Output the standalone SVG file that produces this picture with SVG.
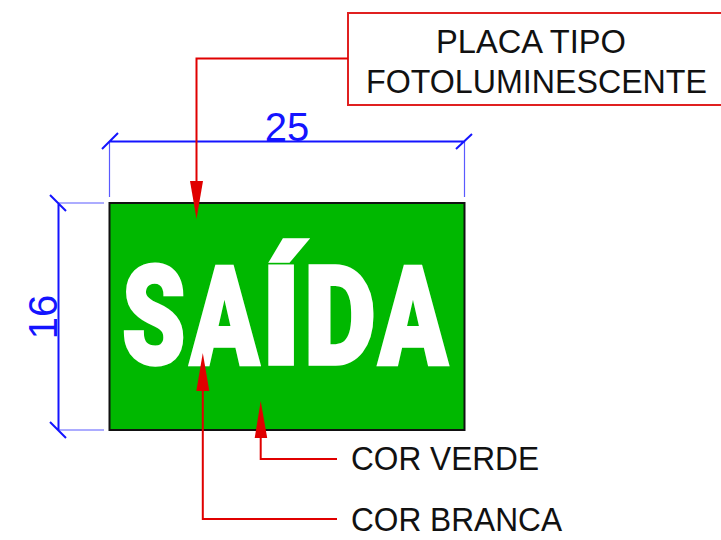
<svg xmlns="http://www.w3.org/2000/svg" width="721" height="540" viewBox="0 0 721 540">
<style>
.lbl{font-family:"Liberation Sans",Arial,sans-serif;font-size:33px;fill:#111}
.dimt{font-family:"Liberation Sans",Arial,sans-serif;font-size:40px;fill:#1414ff}
.sg{font-family:"Roboto","Liberation Sans",sans-serif;font-weight:900;font-size:137px;fill:#fff;stroke:#fff;stroke-width:3.500}
.dim{stroke:#1414ff;stroke-width:2;fill:none}
.ext{stroke:#5a5aff;stroke-width:1.2;fill:none}
.lead{stroke:#e00000;stroke-width:2;fill:none}
.head{fill:#e00000}
</style>
<rect width="721" height="540" fill="#fff"/>
<g id="placa">
<rect x="109.5" y="203" width="355" height="227" fill="#00b800" stroke="#111" stroke-width="2"/>
<g id="saida">
<text class="sg" transform="translate(122 364) scale(.74 1)">S</text>
<text class="sg" transform="translate(190 364) scale(.74 1)">A</text>
<text class="sg" transform="translate(261.500 364) scale(.95 1)">Í</text>
<text class="sg" transform="translate(304 364) scale(.81 1)">D</text>
<text class="sg" transform="translate(378.500 364) scale(.74 1)">A</text>
</g>
</g>
<g id="callout-placa">
<rect x="348" y="13" width="380" height="92" fill="#fff" stroke="#e02020" stroke-width="2"/>
<text class="lbl" x="436" y="53" textLength="190" lengthAdjust="spacingAndGlyphs">PLACA TIPO</text>
<text class="lbl" x="366" y="93" textLength="341" lengthAdjust="spacingAndGlyphs">FOTOLUMINESCENTE</text>
</g>
<g id="label-verde"><text class="lbl" x="351" y="470" textLength="188" lengthAdjust="spacingAndGlyphs">COR VERDE</text></g>
<g id="label-branca"><text class="lbl" x="351" y="531" textLength="211" lengthAdjust="spacingAndGlyphs">COR BRANCA</text></g>
<g id="dim-25">
<text class="dimt" x="287" y="141" text-anchor="middle">25</text>
</g>
<g id="dim-16">
<text class="dimt" transform="translate(57 317) rotate(-90)" text-anchor="middle">16</text>
</g>
<g id="connectors">
<path class="ext" d="M109.5 141V197M464.5 141V197M58 203H104M58 430H104"/>
<path class="dim" d="M109 141.500H465M102 149L118 133M456 149L472 134M58.500 203V430M50 195L66 211M50 422L66 438"/>
<path class="lead" d="M348 58.500H196.500V181"/>
<polygon class="head" points="190,181 203,181 196.500,219"/>
<path class="lead" d="M337 519H202.800V391"/>
<polygon class="head" points="196.300,391 209.300,391 202.800,353"/>
<path class="lead" d="M337 459H260.700V438"/>
<polygon class="head" points="254.700,438 267.200,438 260.700,401"/>
</g>
</svg>
